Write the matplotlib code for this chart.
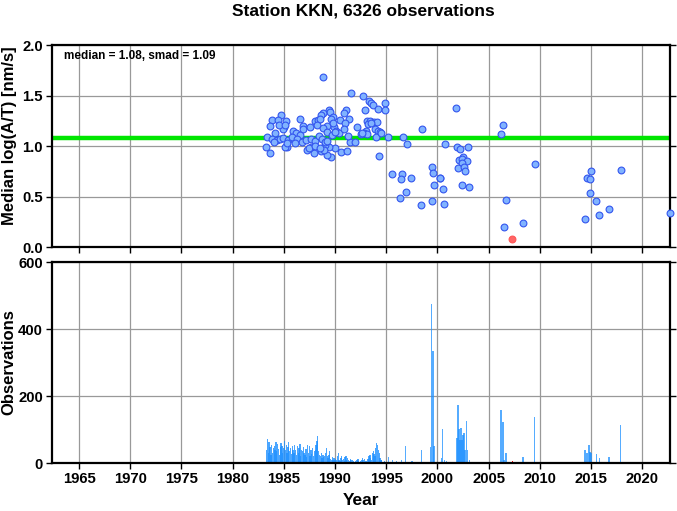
import matplotlib
matplotlib.use("Agg")
import matplotlib.pyplot as plt
import numpy as np

plt.rcParams['font.family'] = ['Liberation Sans', 'DejaVu Sans']
plt.rcParams['font.weight'] = 'bold'

title = "Station KKN, 6326 observations"
median_val = 1.08
smad_val = 1.09

# Median log(A/T) per period (year, value)
pt_years = [
    1988.8, 1991.6, 1992.7, 1993.3, 1993.5, 1993.75, 1994.85, 1994.2, 1994.9, 1992.9,
    1991.07, 1990.9, 1989.4, 1989.5, 1988.85, 1988.65, 1989.8, 1989.65, 1984.7, 1983.8,
    1984.4, 1985.25, 1986.6, 1988.0, 1988.3, 1988.55, 1990.5, 1991.4, 1991.0, 1993.1,
    1993.4, 1993.8, 1994.1, 1993.2, 1993.5, 1992.1, 1989.25, 1989.9, 1990.1, 1990.4,
    1993.9, 1994.2, 1994.4, 1993.05, 1992.85, 1992.5, 1993.15, 1994.0, 1991.45, 1991.95,
    1990.55, 1991.2, 1989.65, 1989.25, 1989.95, 1989.4, 1989.0, 1988.6, 1987.95, 1987.3,
    1987.7, 1985.3, 1985.1, 1983.3, 1983.6, 1994.3,
    1983.4, 1983.6, 1984.1, 1985.05, 1984.9, 1984.55, 1985.1, 1986.9, 1986.9, 1985.9,
    1986.15, 1986.6, 1987.55, 1988.2, 1988.85, 1989.2, 1989.8,
    1983.8, 1984.3, 1984.6, 1984.95, 1985.45, 1985.8, 1986.25, 1986.75, 1987.2, 1987.7,
    1988.05, 1988.4, 1988.7, 1989.0, 1984.0, 1985.3, 1986.1, 1987.5, 1988.0,
    1988.9, 1988.5, 1989.2, 1989.7, 1990.0, 1992.6, 1994.5, 1990.9, 1991.3,
    1995.2, 1996.6, 1997.0, 1998.5, 2000.7, 1995.6, 1996.5, 1996.45, 1997.45, 1996.9,
    1996.3, 1998.4, 1999.5, 1999.6, 2000.2, 1999.7, 2000.5, 1999.5, 2000.6,
    2001.85, 2006.4, 2006.2, 2001.9, 2002.2, 2002.95, 2002.5, 2002.1, 2002.4, 2002.85,
    2002.4, 2002.0, 2002.6, 2002.7, 2000.25, 2002.4, 2003.1,
    2009.5, 2006.7, 2006.5, 2008.35, 2015.0, 2014.6, 2014.9, 2017.9, 2014.85, 2015.5,
    2016.75, 2015.8, 2014.4, 2022.7,
]
pt_values = [
    1.68, 1.52, 1.50, 1.45, 1.43, 1.41, 1.43, 1.37, 1.36, 1.36,
    1.36, 1.33, 1.36, 1.34, 1.33, 1.31, 1.29, 1.27, 1.31, 1.26,
    1.26, 1.25, 1.27, 1.25, 1.26, 1.27, 1.26, 1.27, 1.23, 1.25,
    1.25, 1.24, 1.24, 1.22, 1.23, 1.19, 1.20, 1.19, 1.15, 1.13,
    1.17, 1.15, 1.14, 1.15, 1.13, 1.12, 1.12, 1.09, 1.04, 1.04,
    0.94, 0.95, 0.89, 0.91, 0.98, 0.99, 1.01, 0.95, 0.93, 0.96,
    0.99, 0.99, 0.99, 0.99, 0.93, 0.90,
    1.09, 1.20, 1.13, 1.19, 1.17, 1.21, 1.21, 1.20, 1.17, 1.15,
    1.13, 1.11, 1.19, 1.21, 1.18, 1.14, 1.23,
    1.07, 1.06, 1.07, 1.08, 1.06, 1.09, 1.07, 1.04, 1.06, 1.07,
    1.05, 1.10, 1.07, 1.04, 1.04, 1.03, 1.03, 0.98, 1.00,
    0.96, 0.98, 1.05, 1.11, 1.14, 1.13, 1.13, 1.17, 1.10,
    1.09, 1.09, 1.02, 1.17, 1.02, 0.72, 0.72, 0.67, 0.68, 0.54,
    0.49, 0.42, 0.79, 0.73, 0.68, 0.61, 0.57, 0.46, 0.43,
    1.38, 1.21, 1.12, 0.99, 0.97, 0.99, 0.89, 0.86, 0.87, 0.85,
    0.83, 0.78, 0.79, 0.75, 0.68, 0.61, 0.59,
    0.82, 0.47, 0.20, 0.24, 0.75, 0.68, 0.67, 0.76, 0.53, 0.46,
    0.38, 0.32, 0.28, 0.34,
]
# low-count (flagged) point
red_years = [2007.3]
red_values = [0.08]

# Observations per month, 1983.25 .. 1994.9 (continuous)
dense_start = 1983.25
dense_counts = [
    40, 72, 30, 62, 48, 25, 55, 30, 45,
    50, 38, 62, 35, 58, 42, 25, 48, 60, 52, 30, 45,
    65, 40, 55, 30, 48, 62, 35, 45, 28, 52, 40, 30,
    55, 38, 25, 50, 30, 45, 58, 20, 40, 35, 48, 30,
    25, 42, 18, 55, 30, 50, 22, 38, 28, 45, 20, 35,
    40, 55, 65, 80, 35, 25, 20, 30, 15, 25, 18, 22,
    30, 45, 20, 15, 25, 35, 12, 10, 18, 8, 15, 10,
    12, 8, 20, 30, 10, 5, 15, 22, 8, 12, 6, 18,
    20, 10, 15, 8, 5, 12, 10, 3, 8, 5, 2, 6,
    4, 8, 12, 5, 3, 6, 10, 15, 8, 4, 12, 6,
    5, 3, 12, 20, 25, 15, 10, 30, 35, 28, 20, 45,
    60, 55, 40, 30, 15, 8, 10, 4, 3, 6, 2, 4,
]
# Sparse later months (year, count)
sparse_years = [
    1995.2, 1995.6, 1996.0, 1996.5, 1996.9, 1997.5, 1998.0, 1998.45,
    1999.3, 1999.45, 1999.55, 1999.65, 2000.4, 2000.5, 2000.7, 2000.9,
    2001.9, 2002.0, 2002.1, 2002.2, 2002.3, 2002.4, 2002.5, 2002.6, 2002.7,
    2002.85, 2002.95, 2003.1,
    2006.2, 2006.4, 2006.5, 2006.7, 2008.35, 2009.5,
    2014.4, 2014.6, 2014.8, 2014.9, 2015.0, 2015.55, 2015.8, 2016.75, 2017.9, 2022.8,
]
sparse_counts = [
    17, 8, 5, 9, 50, 5, 3, 39,
    49, 474, 334, 52, 14, 101, 10, 5,
    74, 174, 101, 69, 104, 69, 84, 89, 39,
    124, 39, 9,
    157, 123, 8, 29, 17, 138,
    39, 31, 54, 32, 29, 27, 16, 18, 113, 31,
]
red_bar_years = [2007.3]
red_bar_counts = [5]

xticks = [1965, 1970, 1975, 1980, 1985, 1990, 1995, 2000, 2005, 2010, 2015, 2020]
yticks_top = [0.0, 0.5, 1.0, 1.5, 2.0]
yticks_bot = [0, 200, 400, 600]

fig = plt.figure(figsize=(6.77, 5.11), dpi=100)
ax1 = fig.add_axes([0.0768, 0.5166, 0.9129, 0.3953])
ax2 = fig.add_axes([0.0768, 0.0939, 0.9129, 0.3933])

xlim = (1962.36, 2022.71)

for ax in (ax1, ax2):
    ax.set_xlim(*xlim)
    ax.set_xticks(xticks)
    ax.grid(True, color='#999999', linewidth=0.9)
    ax.set_axisbelow(True)
    for sp in ax.spines.values():
        sp.set_linewidth(1.6)
        sp.set_color('black')
    ax.tick_params(direction='out', length=4, width=1.0, labelsize=10.7,
                   right=True, top=False, pad=2.5)

# Top panel
ax1.axhline(median_val, color='#00e600', linewidth=3.2, zorder=2)
ax1.scatter(pt_years, pt_values, s=24, facecolor='#80b3ff', edgecolor='#3355ee',
            linewidth=0.8, zorder=3, clip_on=False)
ax1.scatter(red_years, red_values, s=24, facecolor='#ff6666', edgecolor='#ff5555',
            linewidth=0.8, zorder=3)
ax1.set_ylim(0, 2.0)
ax1.set_yticks(yticks_top)
ax1.set_yticklabels([f"{v:.1f}" for v in yticks_top], fontweight='bold')
ax1.set_xticklabels([])
ax1.set_ylabel("Median log(A/T) [nm/s]", fontsize=12, fontweight='bold')
ax1.yaxis.set_label_coords(-0.057, 0.55)
ax1.text(0.019, 0.975, f"median = {median_val:.2f}, smad = {smad_val:.2f}",
         transform=ax1.transAxes, ha='left', va='top', fontsize=8.5, fontweight='bold')
fig.text(0.537, 0.994, title, ha='center', va='top', fontsize=12.5, fontweight='bold')

# Bottom panel
dense_years = dense_start + np.arange(len(dense_counts)) / 12.0
w = 0.13
ax2.bar(dense_years, dense_counts, width=w, align='edge', color='#1e90ff',
        alpha=0.8, linewidth=0, zorder=2)
ax2.bar(sparse_years, sparse_counts, width=w, align='center', color='#1e90ff',
        alpha=0.75, linewidth=0, zorder=2)
ax2.bar(red_bar_years, red_bar_counts, width=w, align='center', color='red',
        linewidth=0, zorder=2)
ax2.set_ylim(0, 600)
ax2.set_yticks(yticks_bot)
ax2.set_yticklabels([str(v) for v in yticks_bot], fontweight='bold')
ax2.set_xticklabels([str(v) for v in xticks], fontweight='bold')
ax2.set_ylabel("Observations", fontsize=12, fontweight='bold')
ax2.yaxis.set_label_coords(-0.057, 0.5)
ax2.set_xlabel("Year", fontsize=12.5, fontweight='bold', labelpad=5)

fig.savefig("out.png", dpi=100)
